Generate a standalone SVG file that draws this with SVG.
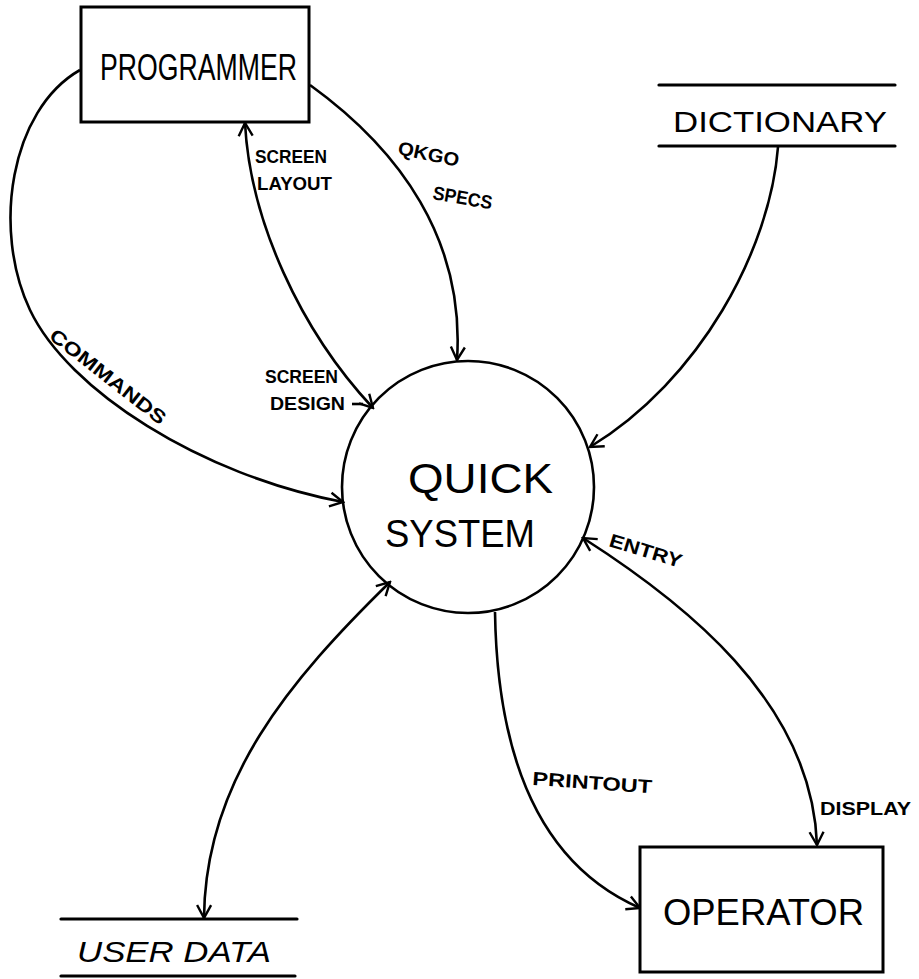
<svg xmlns="http://www.w3.org/2000/svg" width="919" height="979" viewBox="0 0 919 979">
  <defs>
    <style>
      .box { fill: #fff; stroke: #000; stroke-width: 3; }
      .store { stroke: #000; stroke-width: 3.2; stroke-linecap: round; }
      .proc { fill: none; stroke: #000; stroke-width: 2.6; }
      .flow { fill: none; stroke: #000; stroke-width: 2.6; }
      .name { font-family: "Liberation Sans", Arial, sans-serif; fill: #000; }
      .lbl { font-family: "Liberation Sans", Arial, sans-serif; font-weight: bold; fill: #000; font-size: 19px; }
    </style>
    <marker id="arrow" markerUnits="userSpaceOnUse" markerWidth="18" markerHeight="18" viewBox="0 0 18 18" refX="16" refY="9" orient="auto-start-reverse">
      <path d="M3,2 L16,9 L3,16" fill="none" stroke="#000" stroke-width="2.4" stroke-linejoin="miter"/>
    </marker>
  </defs>
  <rect width="919" height="979" fill="#fff"/>

  <!-- data flows -->
  <g id="connectors">
    <!-- COMMANDS: programmer to system -->
    <path class="flow" d="M80,70 C10,110 -8,230 30,310 C68,390 200,475 343,502" marker-end="url(#arrow)"/>
    <!-- SCREEN LAYOUT / SCREEN DESIGN: two-way -->
    <path class="flow" d="M245,123 C250,220 300,330 373,408" marker-start="url(#arrow)" marker-end="url(#arrow)"/>
    <line class="flow" x1="352" y1="404" x2="363" y2="404" stroke-width="2"/>
    <!-- QKGO SPECS -->
    <path class="flow" d="M310,85 C400,150 465,240 457,360" marker-end="url(#arrow)"/>
    <!-- dictionary to system -->
    <path class="flow" d="M778,147 C770,250 700,380 590,447" marker-end="url(#arrow)"/>
    <!-- ENTRY / DISPLAY: two-way -->
    <path class="flow" d="M583,538 C680,600 812,700 817,845" marker-start="url(#arrow)" marker-end="url(#arrow)"/>
    <!-- PRINTOUT -->
    <path class="flow" d="M495,612 C497,740 530,860 640,908" marker-end="url(#arrow)"/>
    <!-- user data: two-way -->
    <path class="flow" d="M390,582 C290,680 205,780 204,918" marker-start="url(#arrow)" marker-end="url(#arrow)"/>

    <!-- flow labels -->
    <text class="lbl" x="48" y="338" transform="rotate(38 48 338)" textLength="142" lengthAdjust="spacingAndGlyphs">COMMANDS</text>
    <text class="lbl" x="255" y="163" textLength="72" lengthAdjust="spacingAndGlyphs">SCREEN</text>
    <text class="lbl" x="257" y="190" textLength="75" lengthAdjust="spacingAndGlyphs">LAYOUT</text>
    <text class="lbl" x="265" y="383" textLength="73" lengthAdjust="spacingAndGlyphs">SCREEN</text>
    <text class="lbl" x="270" y="410" textLength="75" lengthAdjust="spacingAndGlyphs">DESIGN</text>
    <text class="lbl" x="397" y="154" transform="rotate(12 397 154)" textLength="62" lengthAdjust="spacingAndGlyphs">QKGO</text>
    <text class="lbl" x="432" y="199" transform="rotate(10 432 199)" textLength="60" lengthAdjust="spacingAndGlyphs">SPECS</text>
    <text class="lbl" x="608" y="546" transform="rotate(17 608 546)" textLength="75" lengthAdjust="spacingAndGlyphs">ENTRY</text>
    <text class="lbl" x="532" y="785" transform="rotate(4 532 785)" textLength="120" lengthAdjust="spacingAndGlyphs">PRINTOUT</text>
    <text class="lbl" x="820" y="815" textLength="91" lengthAdjust="spacingAndGlyphs">DISPLAY</text>
  </g>

  <!-- external entity -->
  <g id="programmer">
    <rect class="box" x="81" y="7" width="228" height="115"/>
    <text class="name" x="100" y="80" font-size="36" textLength="197" lengthAdjust="spacingAndGlyphs">PROGRAMMER</text>
  </g>

  <!-- process -->
  <g id="quick-system">
    <circle class="proc" cx="468" cy="487" r="126"/>
    <text class="name" x="408" y="493" font-size="42" textLength="145" lengthAdjust="spacingAndGlyphs">QUICK</text>
    <text class="name" x="385" y="547" font-size="38" textLength="150" lengthAdjust="spacingAndGlyphs">SYSTEM</text>
  </g>

  <!-- data store -->
  <g id="dictionary">
    <line class="store" x1="659" y1="85" x2="895" y2="85"/>
    <line class="store" x1="659" y1="146" x2="895" y2="146"/>
    <text class="name" x="673" y="132" font-size="30" textLength="214" lengthAdjust="spacingAndGlyphs">DICTIONARY</text>
  </g>

  <!-- data store -->
  <g id="user-data">
    <line class="store" x1="61" y1="919" x2="297" y2="919"/>
    <line class="store" x1="61" y1="976" x2="295" y2="976"/>
    <text class="name" x="77" y="962" font-size="30" font-style="italic" textLength="194" lengthAdjust="spacingAndGlyphs">USER DATA</text>
  </g>

  <!-- external entity -->
  <g id="operator">
    <rect class="box" x="640" y="847" width="243" height="125"/>
    <text class="name" x="663" y="925" font-size="37" textLength="201" lengthAdjust="spacingAndGlyphs">OPERATOR</text>
  </g>
</svg>
